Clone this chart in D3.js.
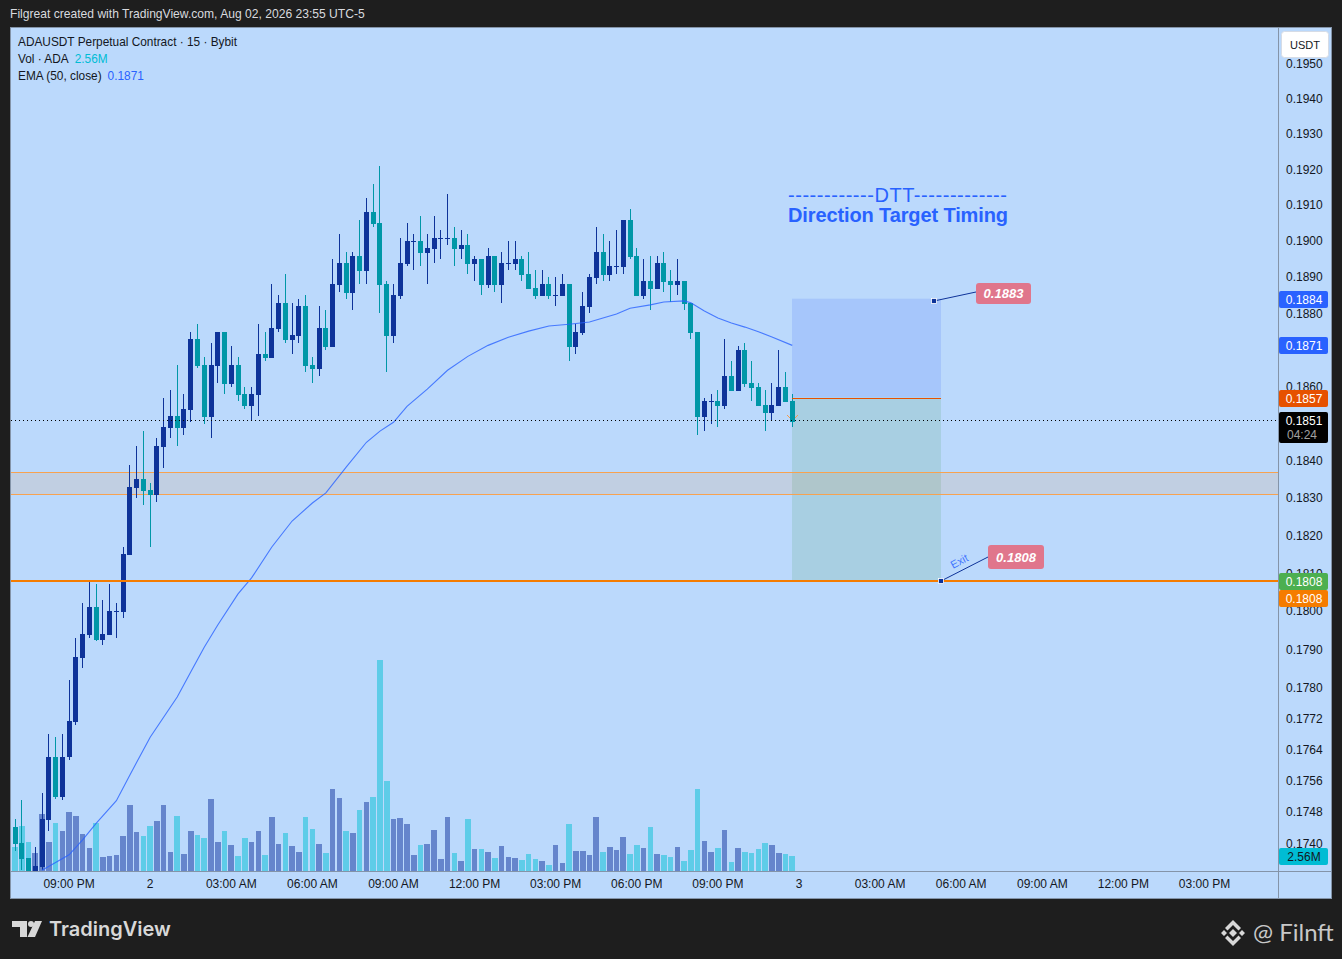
<!DOCTYPE html>
<html>
<head>
<meta charset="utf-8">
<script src="https://cdnjs.cloudflare.com/ajax/libs/d3/7.8.5/d3.min.js"></script>
<style>
html, body { margin: 0; padding: 0; background: #1e1e1e; overflow: hidden; }
svg { display: block; font-family: "Liberation Sans", Arial, sans-serif; }
.tick text { fill: #131722; font-size: 12px; }
</style>
</head>
<body>
<div id="chart-area"></div>
<script>
// 15 minute bars, first one sits 8 bars before 09:00 PM
var opens = [
0.17441,0.17400,0.17362,0.17328,0.17339,0.17459,0.17619,0.17518,0.17619,0.17711,
0.17877,0.17936,0.18010,0.17925,0.17936,0.17999,0.17997,0.18147,0.18326,0.18350,
0.18321,0.18307,0.18436,0.18487,0.18519,0.18487,0.18535,0.18729,0.18658,0.18516,
0.18655,0.18749,0.18607,0.18658,0.18579,0.18546,0.18576,0.18688,0.18677,0.18757,
0.18829,0.18727,0.18738,0.18821,0.18658,0.18647,0.18759,0.18708,0.18878,0.18939,
0.18856,0.18958,0.18916,0.19080,0.19050,0.18881,0.18738,0.18848,0.18936,0.18998,
0.19000,0.18966,0.18977,0.19006,0.19006,0.19008,0.18977,0.18988,0.18936,0.18950,
0.18878,0.18958,0.18878,0.18937,0.18936,0.18950,0.18908,0.18870,0.18848,0.18881,
0.18849,0.18848,0.18881,0.18708,0.18746,0.18818,0.18897,0.18969,0.18905,0.18929,
0.18927,0.19058,0.18958,0.18848,0.18889,0.18867,0.18939,0.18889,0.18878,0.18889,
0.18829,0.18749,0.18516,0.18559,0.18560,0.18546,0.18628,0.18587,0.18699,0.18609,
0.18598,0.18549,0.18527,0.18546,0.18598,0.18560];
var highs = [
0.17461,0.17510,0.17362,0.17390,0.17528,0.17679,0.17671,0.17679,0.17820,0.17928,
0.18021,0.18079,0.18071,0.18029,0.18071,0.18021,0.18169,0.18389,0.18439,0.18479,
0.18339,0.18460,0.18568,0.18590,0.18658,0.18579,0.18749,0.18770,0.18680,0.18719,
0.18749,0.18749,0.18710,0.18680,0.18598,0.18598,0.18770,0.18749,0.18881,0.18851,
0.18908,0.18829,0.18840,0.18851,0.18680,0.18821,0.18810,0.18950,0.19019,0.18969,
0.18969,0.19058,0.19119,0.19158,0.19209,0.18889,0.18881,0.19008,0.19050,0.19019,
0.19069,0.19019,0.19069,0.19031,0.19130,0.19039,0.19031,0.19019,0.18958,0.18950,
0.18980,0.18958,0.18969,0.19000,0.19000,0.18958,0.18969,0.18919,0.18919,0.18900,
0.18900,0.18908,0.18881,0.18770,0.18859,0.18908,0.19039,0.19019,0.19000,0.19031,
0.19058,0.19089,0.18980,0.18950,0.18958,0.18958,0.18969,0.18919,0.18950,0.18889,
0.18829,0.18749,0.18568,0.18579,0.18590,0.18729,0.18669,0.18710,0.18719,0.18669,
0.18609,0.18590,0.18609,0.18699,0.18639,0.18579];
var lows = [
0.17379,0.17331,0.17328,0.17328,0.17331,0.17431,0.17512,0.17510,0.17612,0.17703,
0.17851,0.17928,0.17920,0.17910,0.17936,0.17928,0.17981,0.18147,0.18299,0.18281,
0.18169,0.18288,0.18380,0.18460,0.18439,0.18468,0.18505,0.18650,0.18498,0.18460,
0.18609,0.18579,0.18598,0.18560,0.18538,0.18508,0.18519,0.18669,0.18677,0.18749,
0.18719,0.18688,0.18719,0.18639,0.18609,0.18628,0.18699,0.18708,0.18859,0.18840,
0.18810,0.18881,0.18881,0.19039,0.18801,0.18639,0.18719,0.18840,0.18930,0.18919,
0.18930,0.18881,0.18939,0.18950,0.18988,0.18930,0.18950,0.18908,0.18889,0.18851,
0.18870,0.18859,0.18829,0.18919,0.18919,0.18889,0.18867,0.18840,0.18848,0.18840,
0.18821,0.18848,0.18669,0.18688,0.18740,0.18801,0.18881,0.18889,0.18889,0.18908,
0.18908,0.18950,0.18848,0.18840,0.18810,0.18867,0.18859,0.18832,0.18851,0.18810,
0.18729,0.18468,0.18479,0.18498,0.18490,0.18538,0.18587,0.18587,0.18598,0.18560,
0.18546,0.18479,0.18508,0.18546,0.18557,0.18490];
var closes = [
0.17397,0.17359,0.17328,0.17341,0.17461,0.17619,0.17518,0.17619,0.17714,0.17879,
0.17939,0.18010,0.17925,0.17939,0.18000,0.18000,0.18150,0.18329,0.18350,0.18318,
0.18307,0.18439,0.18490,0.18519,0.18487,0.18538,0.18729,0.18655,0.18516,0.18658,
0.18749,0.18607,0.18658,0.18576,0.18546,0.18579,0.18688,0.18677,0.18759,0.18829,
0.18727,0.18740,0.18821,0.18655,0.18647,0.18759,0.18708,0.18881,0.18939,0.18856,
0.18958,0.18916,0.19080,0.19047,0.18878,0.18738,0.18851,0.18939,0.19000,0.18999,
0.18966,0.18980,0.19008,0.19007,0.19007,0.18977,0.18988,0.18936,0.18950,0.18878,
0.18958,0.18878,0.18939,0.18938,0.18950,0.18905,0.18867,0.18848,0.18881,0.18848,
0.18850,0.18881,0.18708,0.18749,0.18821,0.18900,0.18969,0.18905,0.18930,0.18930,
0.19058,0.18955,0.18848,0.18889,0.18867,0.18939,0.18886,0.18878,0.18889,0.18826,
0.18746,0.18516,0.18560,0.18560,0.18546,0.18628,0.18587,0.18699,0.18607,0.18596,
0.18546,0.18527,0.18549,0.18598,0.18557,0.18505];
// volume in millions of ADA
var volumes = [
4.09,7.68,4.95,3.07,9.73,4.95,8.19,6.82,10.07,9.38,
6.31,3.92,8.19,2.39,2.56,2.73,5.97,11.26,6.65,5.97,
7.68,8.53,11.26,3.24,9.38,2.90,6.82,6.14,5.63,12.28,
4.95,6.82,4.44,2.56,5.63,4.95,6.82,2.73,9.21,4.61,
6.48,4.27,3.24,9.21,7.17,4.61,3.07,13.99,12.46,6.82,
6.48,10.41,11.77,12.63,36.00,15.36,8.87,9.04,8.02,2.73,
4.44,4.61,7.00,2.05,9.21,3.07,1.71,8.87,3.75,3.75,
3.24,2.22,4.27,2.39,2.22,1.88,2.90,2.05,1.71,1.02,
4.44,1.36,8.02,3.41,3.41,2.73,9.21,3.24,4.09,3.58,
5.80,2.90,4.44,3.92,7.51,2.90,2.73,2.39,4.09,1.71,
3.58,13.99,5.12,3.24,3.92,7.00,1.54,3.92,3.24,3.07,
3.75,4.78,4.44,3.07,2.90,2.56];
// EMA 50 at these bars
var emaBars = [4,8,10,12,15,17,20,24,26,28,30,33,35,38,41,44,46,49,52,54,56,58,61,64,67,70,73,76,79,82,85,87,89,91,94,96,99,100,102,104,106,108,110,112,115];
var emaValues = [0.17331,0.17370,0.17408,0.17450,0.17508,0.17574,0.17671,0.17775,0.17840,0.17905,0.17963,0.18045,0.18087,0.18169,0.18238,0.18286,0.18313,0.18382,0.18449,0.18479,0.18503,0.18546,0.18593,0.18644,0.18682,0.18712,0.18734,0.18751,0.18765,0.18770,0.18776,0.18787,0.18798,0.18814,0.18823,0.18831,0.18834,0.18829,0.18806,0.18787,0.18773,0.18762,0.18749,0.18735,0.18712];

var priceTicks = [0.1950,0.1940,0.1930,0.1920,0.1910,0.1900,0.1890,0.1880,0.1860,0.1840,0.1830,0.1820,0.1810,0.1800,0.1790,0.1780,0.1772,0.1764,0.1756,0.1748,0.1740];
var timeBars = [8,20,32,44,56,68,80,92,104,116,128,140,152,164,176];
var timeLabels = ["09:00 PM","2","03:00 AM","06:00 AM","09:00 AM","12:00 PM","03:00 PM","06:00 PM","09:00 PM","3","03:00 AM","06:00 AM","09:00 AM","12:00 PM","03:00 PM"];

var zoneTop = 0.18369, zoneBottom = 0.18310, targetPrice = 0.1808, lastPrice = 0.1851;
var stopPrice = 0.1884, entryPrice = 0.1857, emaLast = 0.18712;

var W = 1342, H = 959;
var plot = { left:11, right:1278, top:28, bottom:871 };

var svg = d3.select("#chart-area").append("svg")
    .attr("width", W)
    .attr("height", H);

var x = d3.scaleLinear().domain([0, 116]).range([15, 799]);
var y = d3.scaleLog().domain([0.1740, 0.1950]).range([843, 63]);
var yVol = d3.scaleLinear().domain([0, 36]).range([871, 660]);

var UP = "#0e3399", DOWN = "#0097a7", VOL_UP = "#6585cc", VOL_DOWN = "#5ecce8", BLUE = "#2962ff";
var bars = d3.range(opens.length);
function isUp(i) { return closes[i] >= opens[i]; }

// panel
svg.append("rect")
    .attr("x", 10.5).attr("y", 27.5)
    .attr("width", 1321).attr("height", 871)
    .attr("fill", "#bbd9fc")
    .attr("stroke", "#8494a8");

svg.append("defs").append("clipPath").attr("id", "plot-clip")
    .append("rect")
        .attr("x", plot.left).attr("y", plot.top)
        .attr("width", plot.right - plot.left)
        .attr("height", plot.bottom - plot.top);

var g = svg.append("g").attr("clip-path", "url(#plot-clip)");

// volume
g.selectAll(".vol").data(bars).enter().append("rect")
    .attr("class", "vol")
    .attr("shape-rendering", "crispEdges")
    .attr("x", function(i) { return Math.round(x(i) - 2.8); })
    .attr("width", function(i) { return Math.round(x(i) + 2.8) - Math.round(x(i) - 2.8); })
    .attr("y", function(i) { return yVol(volumes[i]); })
    .attr("height", function(i) { return yVol(0) - yVol(volumes[i]); })
    .attr("fill", function(i) { return isUp(i) ? VOL_UP : VOL_DOWN; });

// position tool
var toolX1 = Math.floor(x(115)), toolX2 = 941;
g.append("rect")
    .attr("x", toolX1).attr("width", toolX2 - toolX1)
    .attr("y", y(stopPrice)).attr("height", y(entryPrice) - y(stopPrice))
    .attr("fill", "#a6c6fb");
g.append("rect")
    .attr("x", toolX1).attr("width", toolX2 - toolX1)
    .attr("y", y(entryPrice)).attr("height", y(targetPrice) - y(entryPrice))
    .attr("fill", "#a8cfe2");

// zone, on top of the tool
g.append("rect")
    .attr("x", plot.left).attr("width", plot.right - plot.left)
    .attr("y", Math.round(y(zoneTop)))
    .attr("height", Math.round(y(zoneBottom)) - Math.round(y(zoneTop)))
    .attr("fill", "#f57c00").attr("fill-opacity", 0.1);
[zoneTop, zoneBottom].forEach(function(p) {
    g.append("line")
        .attr("x1", plot.left).attr("x2", plot.right)
        .attr("y1", Math.round(y(p)) + 0.5).attr("y2", Math.round(y(p)) + 0.5)
        .attr("stroke", "#f7a250");
});

// wicks and bodies
g.selectAll(".wick").data(bars).enter().append("rect")
    .attr("class", "wick")
    .attr("shape-rendering", "crispEdges")
    .attr("x", function(i) { return Math.floor(x(i)); })
    .attr("width", 1)
    .attr("y", function(i) { return Math.round(y(highs[i])); })
    .attr("height", function(i) { return Math.round(y(lows[i])) - Math.round(y(highs[i])); })
    .attr("fill", function(i) { return isUp(i) ? UP : DOWN; });

g.selectAll(".body").data(bars).enter().append("rect")
    .attr("class", "body")
    .attr("shape-rendering", "crispEdges")
    .attr("x", function(i) { return Math.floor(x(i)) - 2; })
    .attr("width", 5)
    .attr("y", function(i) { return Math.round(y(Math.max(opens[i], closes[i]))); })
    .attr("height", function(i) {
        return Math.max(1, Math.round(y(Math.min(opens[i], closes[i]))) - Math.round(y(Math.max(opens[i], closes[i]))));
    })
    .attr("fill", function(i) { return isUp(i) ? UP : DOWN; });

// ema
var emaLine = d3.line()
    .x(function(d, k) { return x(emaBars[k]); })
    .y(function(d) { return y(d); });
g.append("path")
    .attr("d", emaLine(emaValues))
    .attr("fill", "none")
    .attr("stroke", BLUE).attr("stroke-opacity", 0.8).attr("stroke-width", 1.1);

// entry, target, last price
g.append("line")
    .attr("x1", toolX1).attr("x2", toolX2)
    .attr("y1", Math.round(y(entryPrice)) + 0.5).attr("y2", Math.round(y(entryPrice)) + 0.5)
    .attr("stroke", "#e65100");
g.append("line")
    .attr("x1", plot.left).attr("x2", plot.right)
    .attr("y1", Math.round(y(targetPrice))).attr("y2", Math.round(y(targetPrice)))
    .attr("stroke", "#f57c00").attr("stroke-width", 2);
g.append("line")
    .attr("x1", plot.left).attr("x2", plot.right)
    .attr("y1", Math.round(y(lastPrice)) + 0.5).attr("y2", Math.round(y(lastPrice)) + 0.5)
    .attr("stroke", "#000").attr("stroke-dasharray", "1,3");

// small arrow on the last bar
g.append("path")
    .attr("d", "M787,415 L790,418 M798,415 L795,418")
    .attr("stroke", "#f59a4a").attr("fill", "none");

// annotation callouts
function callout(x1, y1, x2, y2, bx, by, bw, bh, label) {
    svg.append("line")
        .attr("x1", x1).attr("y1", y1).attr("x2", x2).attr("y2", y2)
        .attr("stroke", "#0e3399");
    svg.append("rect")
        .attr("x", x1 - 2.5).attr("y", y1 - 2.5)
        .attr("width", 5).attr("height", 5)
        .attr("fill", "#0e3399").attr("stroke", "#fff").attr("stroke-width", 0.8);
    svg.append("rect")
        .attr("x", bx).attr("y", by)
        .attr("width", bw).attr("height", bh)
        .attr("rx", 3)
        .attr("fill", "#e0768c");
    svg.append("text")
        .attr("x", bx + bw / 2).attr("y", by + bh / 2 + 4.5)
        .attr("text-anchor", "middle")
        .attr("font-size", "13px").attr("font-weight", "bold").attr("font-style", "italic")
        .attr("fill", "#fff")
        .text(label);
}
callout(934, 301, 976, 292, 976, 283, 55, 21, "0.1883");
callout(941, 581, 988, 557, 988, 545, 56, 24, "0.1808");

svg.append("text")
    .attr("transform", "translate(953,569) rotate(-28)")
    .attr("font-size", "11px")
    .attr("fill", BLUE).attr("fill-opacity", 0.85)
    .text("Exit");

// DTT note
svg.append("text")
    .attr("x", 788).attr("y", 202)
    .attr("font-size", "20px").attr("fill", BLUE)
    .attr("textLength", 219)
    .text("------------DTT-------------");
svg.append("text")
    .attr("x", 788).attr("y", 222)
    .attr("font-size", "20px").attr("font-weight", "bold").attr("fill", BLUE)
    .attr("textLength", 220)
    .text("Direction Target Timing");

// axes
svg.append("line")
    .attr("x1", 1278.5).attr("x2", 1278.5).attr("y1", 28).attr("y2", 898)
    .attr("stroke", "#8494a8");
svg.append("line")
    .attr("x1", 11).attr("x2", 1331).attr("y1", 871.5).attr("y2", 871.5)
    .attr("stroke", "#8494a8");

var yAxisCall = d3.axisRight(y)
    .tickValues(priceTicks)
    .tickSize(0)
    .tickPadding(8)
    .tickFormat(d3.format(".4f"));
svg.append("g")
    .attr("class", "y axis")
    .attr("transform", "translate(1278,0.2)")
    .call(yAxisCall)
    .call(function(s) { s.select(".domain").remove(); });

var xAxisCall = d3.axisBottom(x)
    .tickValues(timeBars)
    .tickSize(0)
    .tickPadding(8)
    .tickFormat(function(d, k) { return timeLabels[k]; });
svg.append("g")
    .attr("class", "x axis")
    .attr("transform", "translate(-0.5,871.6)")
    .call(xAxisCall)
    .call(function(s) { s.select(".domain").remove(); });

// price labels on the axis
function priceLabel(top, h, fill, color, label) {
    svg.append("rect")
        .attr("x", 1279).attr("y", top)
        .attr("width", 49).attr("height", h)
        .attr("rx", 2)
        .attr("fill", fill);
    svg.append("text")
        .attr("x", 1304).attr("y", top + 12.5)
        .attr("text-anchor", "middle")
        .attr("font-size", "12px")
        .attr("fill", color)
        .text(label);
}
priceLabel(Math.round(y(stopPrice)) - 8, 17, BLUE, "#fff", d3.format(".4f")(stopPrice));
priceLabel(Math.round(y(emaLast)) - 8, 17, BLUE, "#fff", d3.format(".4f")(emaLast));
priceLabel(Math.round(y(entryPrice)) - 8, 17, "#e65100", "#fff", d3.format(".4f")(entryPrice));
priceLabel(412, 31, "#000", "#fff", d3.format(".4f")(lastPrice));
svg.append("text")
    .attr("x", 1302).attr("y", 439)
    .attr("text-anchor", "middle")
    .attr("font-size", "12px").attr("fill", "#a0a0a0")
    .text("04:24");
priceLabel(573, 17, "#4caf50", "#fff", d3.format(".4f")(targetPrice));
priceLabel(590, 17, "#f57c00", "#fff", d3.format(".4f")(targetPrice));
priceLabel(848, 17, "#00bcd4", "#131722", "2.56M");

// USDT button
svg.append("rect")
    .attr("x", 1281.5).attr("y", 31.5)
    .attr("width", 47).attr("height", 26)
    .attr("rx", 3)
    .attr("fill", "#fff").attr("stroke", "#d6dce6");
svg.append("text")
    .attr("x", 1305).attr("y", 49)
    .attr("text-anchor", "middle")
    .attr("font-size", "11px").attr("fill", "#131722")
    .text("USDT");

// legend
function legend(py, parts) {
    var t = svg.append("text").attr("x", 18).attr("y", py).attr("font-size", "11.85px").attr("fill", "#131722");
    parts.forEach(function(p) {
        t.append("tspan").attr("fill", p[1]).attr("dx", p[2] || 0).text(p[0]);
    });
}
legend(46, [["ADAUSDT Perpetual Contract · 15 · Bybit", "#131722"]]);
legend(63, [["Vol · ADA", "#131722"], ["2.56M", "#00bcd4", 6]]);
legend(80, [["EMA (50, close)", "#131722"], ["0.1871", BLUE, 6]]);

// header and footer
svg.append("text")
    .attr("x", 10).attr("y", 18)
    .attr("font-size", "12.1px").attr("fill", "#d8dadf")
    .text("Filgreat created with TradingView.com, Aug 02, 2026 23:55 UTC-5");

svg.append("path")
    .attr("d", "M12,921 H27 V937 H20 V927 H12 Z M35,921 H42 L35,937 H27.5 Z")
    .attr("fill", "#d8d8d8");
svg.append("circle")
    .attr("cx", 31).attr("cy", 924).attr("r", 3)
    .attr("fill", "#d8d8d8");
svg.append("text")
    .attr("x", 49).attr("y", 936)
    .attr("font-family", "Inter, sans-serif")
    .attr("font-size", "20px").attr("font-weight", 600).attr("fill", "#d8d8d8")
    .text("TradingView");

var mark = svg.append("g").attr("transform", "translate(1233,933)").attr("fill", "#d8d8d8");
mark.append("path").attr("d", "M0,-4 L4,0 L0,4 L-4,0 Z");
mark.append("path").attr("d", "M-9,-3 L-6,0 L-9,3 L-12,0 Z M9,-3 L12,0 L9,3 L6,0 Z");
mark.append("path").attr("d", "M0,-13 L8,-5 L5.5,-2.5 L0,-8 L-5.5,-2.5 L-8,-5 Z");
mark.append("path").attr("d", "M0,13 L8,5 L5.5,2.5 L0,8 L-5.5,2.5 L-8,5 Z");
svg.append("text")
    .attr("x", 1253).attr("y", 941)
    .attr("font-family", "Lato, sans-serif")
    .attr("font-size", "24px").attr("fill", "#c8c8c8")
    .text("@ Filnft");
</script>
</body>
</html>
